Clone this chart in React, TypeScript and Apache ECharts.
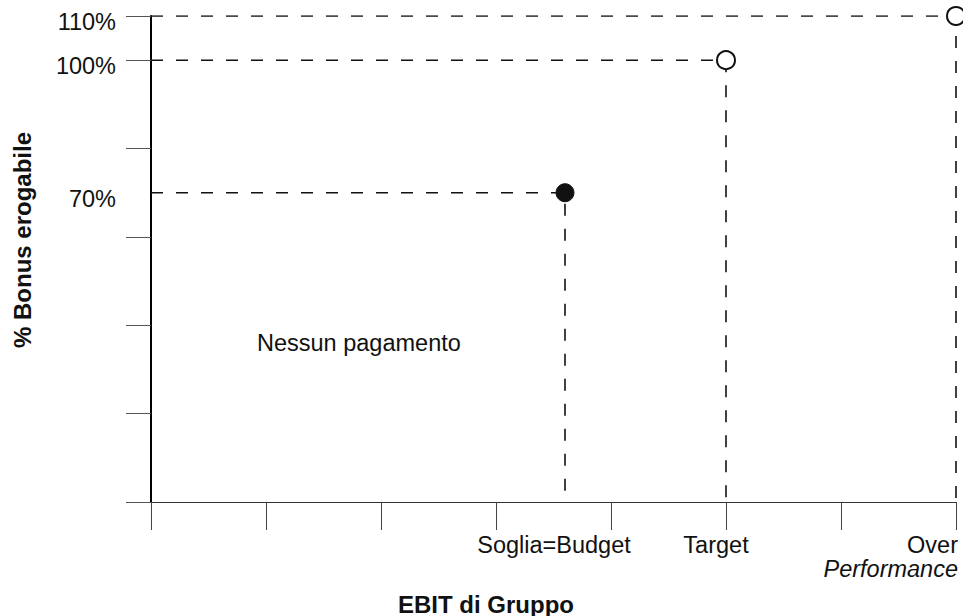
import React, { useEffect, useRef } from 'react';
import * as echarts from 'echarts';

// ---- data ----
const xTicks = [0, 1, 2, 3, 4, 5, 6, 7];
const yTicks = [0, 20, 40, 60, 80, 100, 110];
const yLabelValues = [70, 100, 110];
const pointNames = ['Soglia=Budget', 'Target', 'Over'];
const pointX = [3.6, 5, 7];
const pointY = [70, 100, 110];
const pointFilled = [true, false, false];
const xTitle = 'EBIT di Gruppo';
const yTitle = '% Bonus erogabile';
const zoneLabel = 'Nessun pagamento';
const overSubLabel = 'Performance';

const FONT = '"Liberation Sans", Arial, Helvetica, sans-serif';
const INK = '#111';
const FS = 23.5;

export default function App() {
  const ref = useRef<HTMLDivElement>(null);

  useEffect(() => {
    if (!ref.current) return;
    const chart = echarts.init(ref.current, undefined, { renderer: 'svg' });

    const guideSeries = pointX.map((x, i) => ({
      type: 'line',
      name: pointNames[i],
      data: [
        [0, pointY[i]],
        [x, pointY[i]],
        [x, 0],
      ],
      symbol: 'none',
      silent: true,
      z: 2,
      lineStyle: { type: [12, 13], width: 1.6, color: INK },
    }));

    const option: any = {
      animation: false,
      backgroundColor: '#ffffff',
      grid: { left: 151, right: 7, top: 16, bottom: 114, containLabel: false },
      xAxis: {
        type: 'value',
        min: 0,
        max: 7,
        interval: 1,
        axisLine: { show: true, lineStyle: { color: '#333', width: 1 } },
        axisTick: { show: true, length: 28, customValues: xTicks, lineStyle: { color: '#444', width: 1 } },
        axisLabel: { show: false },
        splitLine: { show: false },
      },
      yAxis: {
        type: 'value',
        min: 0,
        max: 110,
        axisLine: { show: true, lineStyle: { color: '#000', width: 2 } },
        axisTick: { show: true, length: 25, customValues: yTicks, lineStyle: { color: '#555', width: 1 } },
        axisLabel: {
          show: true,
          customValues: yLabelValues,
          formatter: (v: number) => `${v}%`,
          margin: 35,
          fontSize: FS,
          color: INK,
          fontFamily: FONT,
          verticalAlign: 'top',
          lineHeight: 12,
        },
        splitLine: { show: false },
      },
      series: [
        ...guideSeries,
        {
          type: 'scatter',
          name: 'points',
          z: 5,
          symbolSize: 18,
          data: pointX.map((x, i) => ({
            value: [x, pointY[i]],
            itemStyle: pointFilled[i]
              ? { color: INK, borderColor: INK, borderWidth: 1, opacity: 1 }
              : { color: '#fff', borderColor: INK, borderWidth: 2, opacity: 1 },
          })),
        },
      ],
    };

    chart.setOption(option);

    const px = pointX.map((x) => chart.convertToPixel({ gridIndex: 0 }, [x, 0]) as number[]);
    const axisY = px[0][1];
    const labelTop = axisY + 31;
    const textStyle = { fontFamily: FONT, fontSize: FS, fill: INK };

    chart.setOption({
      graphic: [
        {
          type: 'text',
          x: px[0][0] - 11,
          y: labelTop,
          style: { ...textStyle, text: pointNames[0], align: 'center', verticalAlign: 'top' },
        },
        {
          type: 'text',
          x: px[1][0] - 10,
          y: labelTop,
          style: { ...textStyle, text: pointNames[1], align: 'center', verticalAlign: 'top' },
        },
        {
          type: 'text',
          x: px[2][0] + 2,
          y: labelTop,
          style: { ...textStyle, text: pointNames[2], align: 'right', verticalAlign: 'top' },
        },
        {
          type: 'text',
          x: px[2][0] + 2,
          y: labelTop + 24,
          style: { ...textStyle, text: overSubLabel, fontStyle: 'italic', align: 'right', verticalAlign: 'top' },
        },
        {
          type: 'text',
          x: 486,
          y: 592,
          style: { ...textStyle, text: xTitle, fontSize: 24, fontWeight: 'bold', align: 'center', verticalAlign: 'top' },
        },
        {
          type: 'text',
          x: 22,
          y: 240,
          rotation: Math.PI / 2,
          style: { ...textStyle, text: yTitle, fontSize: 24, fontWeight: 'bold', align: 'center', verticalAlign: 'middle' },
        },
        {
          type: 'text',
          x: 257,
          y: 331,
          style: { ...textStyle, text: zoneLabel, align: 'left', verticalAlign: 'top' },
        },
      ],
    });

    return () => chart.dispose();
  }, []);

  return (
    <div
      ref={ref}
      style={{ position: 'fixed', left: 0, top: 0, width: 963, height: 616, background: '#fff' }}
    />
  );
}
